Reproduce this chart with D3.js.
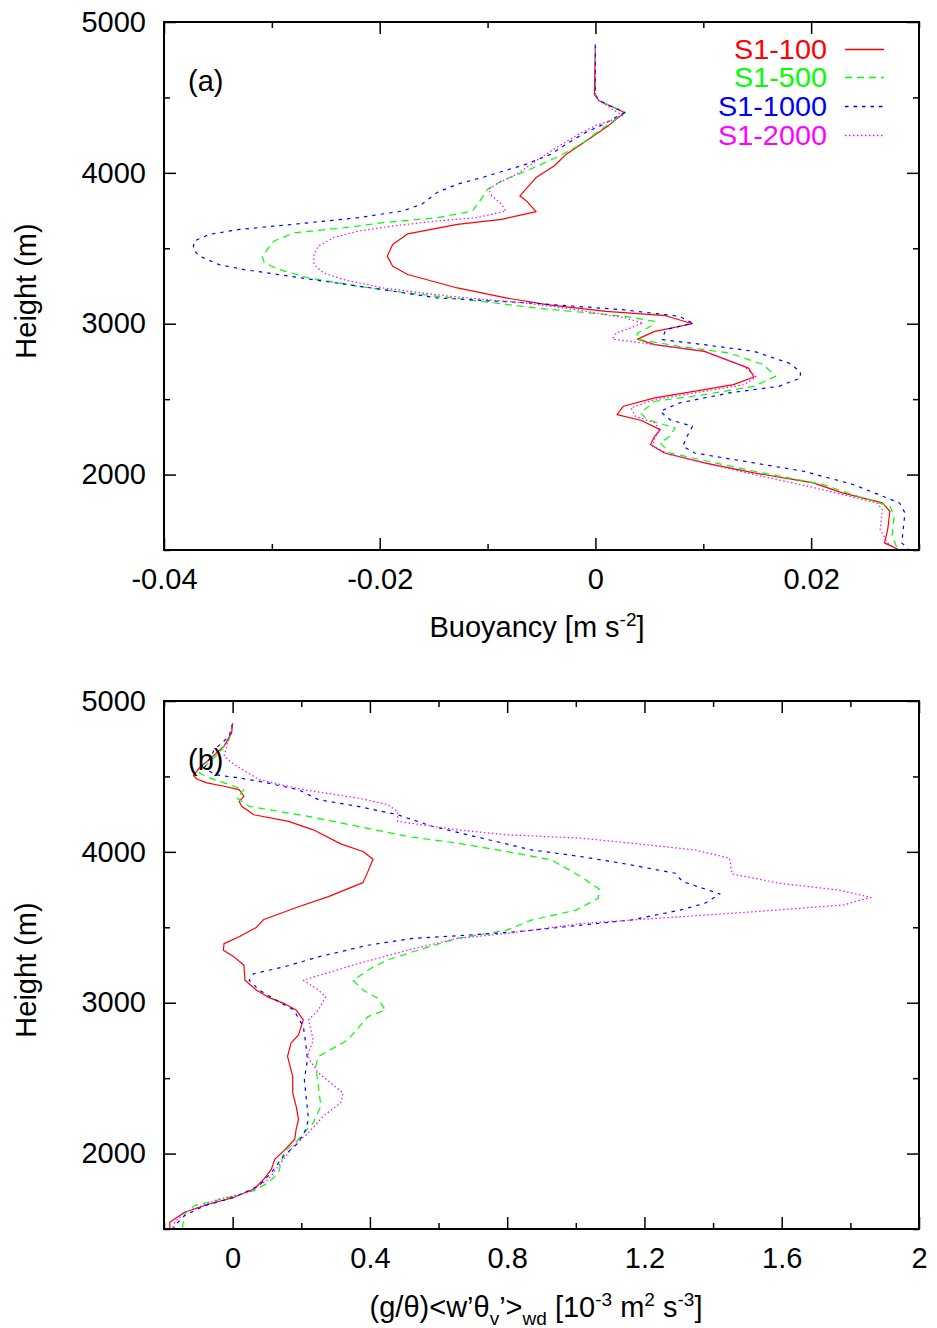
<!DOCTYPE html>
<html>
<head>
<meta charset="utf-8">
<script src="https://cdn.jsdelivr.net/npm/d3@7"></script>
<style>
  html, body { margin: 0; padding: 0; background: #fff; }
  svg { display: block; }
  text { font-family: "Liberation Sans", Arial, Helvetica, sans-serif; fill: #000; }
</style>
</head>
<body>
<svg id="chart" width="937" height="1328"></svg>
<script>
// ---------------- DATA ----------------
const seriesNames = ["S1-100", "S1-500", "S1-1000", "S1-2000"];
const seriesColors = ["#ff0000", "#00ff00", "#0000ff", "#ff00ff"];

// Panel (a): buoyancy [m s-2] vs height [m]
const heightA_S1_100 = [4850, 4520, 4480, 4400, 4313, 4235, 4124, 4047, 3969, 3847, 3814, 3743, 3692, 3659, 3596, 3525, 3448, 3381, 3326, 3237, 3171, 3126, 3082, 3053, 3000, 2949, 2898, 2861, 2817, 2706, 2647, 2596, 2563, 2508, 2453, 2397, 2360, 2298, 2254, 2199, 2143, 2077, 2011, 1945, 1879, 1812, 1757, 1636, 1547, 1500];
const buoyA_S1_100 = [0, -0.0001, 0.0003, 0.0027, 0.0012, -0.0004, -0.0027, -0.0038, -0.0055, -0.0070, -0.0064, -0.0055, -0.0087, -0.0128, -0.0174, -0.0188, -0.0193, -0.0188, -0.0174, -0.0128, -0.0083, -0.0045, 0.0010, 0.0065, 0.0090, 0.0055, 0.0039, 0.0055, 0.0101, 0.0142, 0.0147, 0.0128, 0.0101, 0.0055, 0.0026, 0.0020, 0.0042, 0.0060, 0.0055, 0.0051, 0.0064, 0.0101, 0.0147, 0.0202, 0.0229, 0.0266, 0.0273, 0.0271, 0.0268, 0.0282];

const heightA_S1_500 = [4850, 4520, 4480, 4400, 4313, 4191, 4102, 4013, 3947, 3891, 3836, 3747, 3703, 3670, 3636, 3603, 3548, 3448, 3404, 3359, 3304, 3248, 3204, 3160, 3104, 3049, 3015, 2982, 2938, 2898, 2850, 2806, 2728, 2651, 2585, 2530, 2486, 2408, 2364, 2309, 2254, 2210, 2143, 2022, 1934, 1868, 1790, 1724, 1592, 1525, 1500];
const buoyA_S1_500 = [0, 0, 0.0003, 0.0028, 0.0010, -0.0013, -0.0036, -0.0064, -0.0087, -0.0100, -0.0105, -0.0114, -0.0146, -0.0197, -0.0233, -0.0279, -0.0298, -0.0309, -0.0307, -0.0293, -0.0266, -0.0220, -0.0174, -0.0119, -0.0055, 0.0028, 0.0055, 0.0051, 0.0039, 0.0038, 0.0078, 0.0124, 0.0156, 0.0167, 0.0147, 0.0101, 0.0055, 0.0042, 0.0048, 0.0074, 0.0069, 0.0060, 0.0069, 0.0147, 0.0211, 0.0238, 0.0273, 0.0277, 0.0275, 0.0279, 0.0286];

const heightA_S1_1000 = [4850, 4520, 4480, 4400, 4313, 4268, 4191, 4124, 4058, 3969, 3925, 3869, 3792, 3747, 3703, 3659, 3625, 3592, 3548, 3492, 3448, 3392, 3359, 3326, 3282, 3226, 3171, 3137, 3093, 3049, 3004, 2960, 2894, 2861, 2817, 2740, 2684, 2640, 2585, 2541, 2475, 2419, 2364, 2320, 2254, 2188, 2143, 2077, 2022, 1934, 1812, 1746, 1547, 1500];
const buoyA_S1_1000 = [0, 0, 0.0003, 0.0027, 0.0005, -0.0009, -0.0027, -0.0041, -0.0064, -0.0105, -0.0128, -0.0147, -0.0161, -0.0179, -0.0220, -0.0280, -0.0330, -0.0358, -0.0372, -0.0373, -0.0367, -0.0349, -0.0326, -0.0294, -0.0252, -0.0197, -0.0147, -0.0060, 0.0025, 0.0078, 0.0090, 0.0065, 0.0062, 0.0101, 0.0147, 0.0179, 0.0190, 0.0190, 0.0170, 0.0124, 0.0078, 0.0060, 0.0069, 0.0090, 0.0085, 0.0081, 0.0092, 0.0147, 0.0193, 0.0239, 0.0282, 0.0287, 0.0284, 0.0291];

const heightA_S1_2000 = [4850, 4520, 4480, 4380, 4346, 4313, 4246, 4169, 4080, 3991, 3925, 3891, 3847, 3792, 3747, 3703, 3681, 3648, 3614, 3570, 3514, 3459, 3392, 3337, 3293, 3237, 3182, 3137, 3093, 3038, 3004, 2971, 2938, 2898, 2861, 2817, 2717, 2647, 2596, 2552, 2497, 2442, 2386, 2342, 2298, 2243, 2188, 2133, 2000, 1923, 1812, 1768, 1636, 1547, 1500];
const buoyA_S1_2000 = [0, 0, 0.0003, 0.0025, 0.0014, 0.0000, -0.0018, -0.0036, -0.0055, -0.0073, -0.0092, -0.0099, -0.0096, -0.0087, -0.0083, -0.0110, -0.0147, -0.0188, -0.0220, -0.0243, -0.0257, -0.0261, -0.0261, -0.0252, -0.0234, -0.0197, -0.0135, -0.0065, -0.0018, 0.0028, 0.0044, 0.0032, 0.0019, 0.0016, 0.0055, 0.0101, 0.0138, 0.0149, 0.0138, 0.0101, 0.0055, 0.0033, 0.0037, 0.0055, 0.0060, 0.0055, 0.0053, 0.0069, 0.0147, 0.0197, 0.0261, 0.0266, 0.0264, 0.0271, 0.0280];

// Panel (b): (g/theta)<w'theta_v'>_wd [1e-3 m2 s-3] vs height [m]
const heightB_S1_100 = [4850, 4789, 4701, 4612, 4557, 4506, 4483, 4457, 4435, 4412, 4368, 4335, 4302, 4246, 4202, 4146, 4053, 4002, 3951, 3869, 3796, 3703, 3636, 3552, 3499, 3437, 3392, 3348, 3304, 3248, 3149, 3084, 3035, 2996, 2952, 2886, 2787, 2732, 2644, 2512, 2402, 2314, 2226, 2160, 2095, 2018, 1963, 1897, 1831, 1765, 1710, 1666, 1611, 1545, 1500];
const fluxB_S1_100 = [0, -0.003, -0.025, -0.068, -0.097, -0.114, -0.104, -0.075, -0.025, 0.019, 0.033, 0.019, 0.026, 0.062, 0.163, 0.235, 0.315, 0.380, 0.409, 0.394, 0.380, 0.279, 0.192, 0.091, 0.069, 0.019, -0.025, -0.027, 0.004, 0.033, 0.036, 0.069, 0.105, 0.149, 0.185, 0.206, 0.192, 0.170, 0.160, 0.175, 0.175, 0.185, 0.192, 0.185, 0.181, 0.149, 0.123, 0.113, 0.091, 0.062, 0.004, -0.068, -0.140, -0.183, -0.183];

const heightB_S1_500 = [4850, 4745, 4656, 4579, 4523, 4490, 4435, 4412, 4357, 4302, 4235, 4169, 4102, 4058, 4002, 3947, 3836, 3752, 3692, 3614, 3548, 3481, 3426, 3348, 3282, 3237, 3149, 3084, 3029, 2952, 2908, 2754, 2644, 2578, 2446, 2314, 2204, 2095, 2007, 1875, 1809, 1754, 1710, 1655, 1600, 1500];
const fluxB_S1_500 = [0, -0.010, -0.039, -0.075, -0.097, -0.068, 0.004, 0.033, 0.012, 0.048, 0.221, 0.365, 0.510, 0.654, 0.799, 0.928, 1.015, 1.069, 1.065, 1.001, 0.871, 0.799, 0.654, 0.539, 0.450, 0.409, 0.351, 0.380, 0.423, 0.445, 0.394, 0.336, 0.250, 0.242, 0.250, 0.257, 0.235, 0.192, 0.149, 0.134, 0.105, 0.062, -0.010, -0.111, -0.140, -0.147];

const heightB_S1_1000 = [4850, 4767, 4678, 4557, 4512, 4490, 4468, 4412, 4346, 4302, 4246, 4169, 4091, 4013, 3969, 3914, 3858, 3803, 3721, 3659, 3614, 3548, 3514, 3470, 3448, 3426, 3381, 3304, 3237, 3193, 3149, 3084, 3007, 2952, 2842, 2732, 2622, 2490, 2358, 2226, 2160, 2073, 1985, 1875, 1787, 1710, 1655, 1589, 1523, 1500];
const fluxB_S1_1000 = [0, -0.010, -0.053, -0.082, -0.053, 0.019, 0.077, 0.192, 0.250, 0.365, 0.481, 0.582, 0.726, 0.871, 1.015, 1.160, 1.290, 1.311, 1.420, 1.376, 1.304, 1.160, 1.015, 0.827, 0.683, 0.524, 0.394, 0.250, 0.149, 0.062, 0.048, 0.077, 0.134, 0.178, 0.206, 0.213, 0.218, 0.209, 0.215, 0.221, 0.213, 0.192, 0.149, 0.113, 0.077, 0.004, -0.082, -0.140, -0.169, -0.172];

const heightB_S1_2000 = [4850, 4634, 4579, 4479, 4412, 4357, 4313, 4268, 4202, 4146, 4113, 4091, 4058, 4013, 3958, 3854, 3792, 3747, 3698, 3648, 3603, 3559, 3525, 3459, 3426, 3348, 3259, 3149, 3084, 3040, 2952, 2886, 2754, 2644, 2534, 2402, 2336, 2248, 2138, 2051, 1919, 1831, 1743, 1699, 1611, 1545, 1500];
const fluxB_S1_2000 = [0, -0.025, 0.004, 0.077, 0.206, 0.365, 0.452, 0.481, 0.481, 0.654, 0.799, 1.015, 1.160, 1.347, 1.448, 1.455, 1.593, 1.766, 1.860, 1.780, 1.520, 1.232, 1.015, 0.799, 0.654, 0.510, 0.365, 0.206, 0.250, 0.271, 0.250, 0.221, 0.235, 0.218, 0.250, 0.322, 0.315, 0.264, 0.221, 0.178, 0.134, 0.105, 0.048, -0.039, -0.140, -0.169, -0.176];

// Axis ticks
const xMajorA = [-0.04, -0.02, 0, 0.02];
const xMinorA = [-0.03, -0.01, 0.01, 0.03];
const xMajorB = [0, 0.4, 0.8, 1.2, 1.6, 2];
const xMinorB = [-0.2, 0.2, 0.6, 1.0, 1.4, 1.8];
const yMajor = [2000, 3000, 4000, 5000];
const yMinor = [1500, 2500, 3500, 4500];

// ---------------- LAYOUT ----------------
const svg = d3.select("#chart");
const left = 164, right = 919;
const FS = 29;
const LEG_FS = 27;
const dashes = [null, "7,5", "3.5,5", "1.5,2.5"];

const panels = [
  { top: 22, bottom: 550, xDomain: [-0.04, 0.03], xMajor: xMajorA, xMinor: xMinorA, tag: "(a)", tagY: 91,
    heights: [heightA_S1_100, heightA_S1_500, heightA_S1_1000, heightA_S1_2000],
    values: [buoyA_S1_100, buoyA_S1_500, buoyA_S1_1000, buoyA_S1_2000], legend: true },
  { top: 701, bottom: 1229, xDomain: [-0.2, 2.0], xMajor: xMajorB, xMinor: xMinorB, tag: "(b)", tagY: 770,
    heights: [heightB_S1_100, heightB_S1_500, heightB_S1_1000, heightB_S1_2000],
    values: [fluxB_S1_100, fluxB_S1_500, fluxB_S1_1000, fluxB_S1_2000], legend: false }
];

panels.forEach((p, pi) => {
  const x = d3.scaleLinear().domain(p.xDomain).range([left, right]);
  const y = d3.scaleLinear().domain([1500, 5000]).range([p.bottom, p.top]);
  const g = svg.append("g");

  // curves
  const line = d3.line().x(d => x(d[0])).y(d => y(d[1]));
  seriesNames.forEach((name, i) => {
    const pts = p.values[i].map((v, k) => [v, p.heights[i][k]]);
    const path = g.append("path").datum(pts)
      .attr("d", line)
      .attr("fill", "none")
      .attr("stroke", seriesColors[i])
      .attr("stroke-width", 1.2)
      .attr("stroke-linejoin", "round");
    if (dashes[i]) path.attr("stroke-dasharray", dashes[i]);
  });

  const styleAxis = (sel, showLabels) => {
    sel.select(".domain").remove();
    sel.selectAll(".tick line").attr("stroke", "#000").attr("stroke-width", 1.5);
    sel.selectAll(".tick text").attr("font-size", FS).attr("fill", "#000")
      .attr("font-family", "'Liberation Sans', Arial, sans-serif");
    if (!showLabels) sel.selectAll(".tick text").remove();
  };

  // left axis (labels) + minor
  g.append("g").attr("transform", `translate(${left},0)`)
    .call(d3.axisLeft(y).tickValues(yMajor).tickSize(-12).tickSizeOuter(0).tickPadding(18).tickFormat(d3.format("d")))
    .call(s => styleAxis(s, true));
  g.append("g").attr("transform", `translate(${left},0)`)
    .call(d3.axisLeft(y).tickValues(yMinor).tickSize(-6).tickSizeOuter(0))
    .call(s => styleAxis(s, false));
  // right axis
  g.append("g").attr("transform", `translate(${right},0)`)
    .call(d3.axisRight(y).tickValues(yMajor).tickSize(-12).tickSizeOuter(0))
    .call(s => styleAxis(s, false));
  g.append("g").attr("transform", `translate(${right},0)`)
    .call(d3.axisRight(y).tickValues(yMinor).tickSize(-6).tickSizeOuter(0))
    .call(s => styleAxis(s, false));
  // bottom axis (labels)
  g.append("g").attr("transform", `translate(0,${p.bottom})`)
    .call(d3.axisBottom(x).tickValues(p.xMajor).tickSize(-12).tickSizeOuter(0).tickPadding(18).tickFormat(d => String(d)))
    .call(s => styleAxis(s, true));
  g.append("g").attr("transform", `translate(0,${p.bottom})`)
    .call(d3.axisBottom(x).tickValues(p.xMinor).tickSize(-6).tickSizeOuter(0))
    .call(s => styleAxis(s, false));
  // top axis
  g.append("g").attr("transform", `translate(0,${p.top})`)
    .call(d3.axisTop(x).tickValues(p.xMajor).tickSize(-12).tickSizeOuter(0))
    .call(s => styleAxis(s, false));
  g.append("g").attr("transform", `translate(0,${p.top})`)
    .call(d3.axisTop(x).tickValues(p.xMinor).tickSize(-6).tickSizeOuter(0))
    .call(s => styleAxis(s, false));

  // frame
  g.append("rect").attr("x", left).attr("y", p.top)
    .attr("width", right - left).attr("height", p.bottom - p.top)
    .attr("fill", "none").attr("stroke", "#000").attr("stroke-width", 2);

  // panel tag
  g.append("text").attr("x", 188).attr("y", p.tagY).attr("font-size", FS).text(p.tag);

  // y title
  g.append("text")
    .attr("transform", `translate(${36},${(p.top + p.bottom) / 2 + 5}) rotate(-90)`)
    .attr("text-anchor", "middle").attr("font-size", FS).text("Height (m)");

  // legend
  if (p.legend) {
    const rowY = [49.5, 77.5, 106.5, 135.5];
    seriesNames.forEach((name, i) => {
      g.append("text").attr("x", 827).attr("y", rowY[i]).attr("dy", "0.36em")
        .attr("text-anchor", "end").attr("font-size", LEG_FS).style("fill", seriesColors[i])
        .attr("textLength", name.length === 6 ? 93 : 109).attr("lengthAdjust", "spacingAndGlyphs")
        .text(name);
      const l = g.append("line").attr("x1", 845).attr("x2", 884).attr("y1", rowY[i]).attr("y2", rowY[i])
        .attr("stroke", seriesColors[i]).attr("stroke-width", 1.3);
      if (dashes[i]) l.attr("stroke-dasharray", dashes[i]);
    });
  }
});

// x titles
const SUP = 19;
const t1 = svg.append("text").attr("x", 537).attr("y", 637).attr("text-anchor", "middle").attr("font-size", FS);
t1.append("tspan").text("Buoyancy [m s");
t1.append("tspan").attr("font-size", SUP).attr("dy", -11).text("-2");
t1.append("tspan").attr("dy", 11).text("]");

const t2 = svg.append("text").attr("x", 536).attr("y", 1317).attr("text-anchor", "middle").attr("font-size", FS);
t2.append("tspan").text("(g/\u03B8)<w\u2019\u03B8");
t2.append("tspan").attr("font-size", SUP).attr("dy", 8).text("v");
t2.append("tspan").attr("dy", -8).text("\u2019>");
t2.append("tspan").attr("font-size", SUP).attr("dy", 8).text("wd");
t2.append("tspan").attr("dy", -8).text(" [10");
t2.append("tspan").attr("font-size", SUP).attr("dy", -11).text("-3");
t2.append("tspan").attr("dy", 11).text(" m");
t2.append("tspan").attr("font-size", SUP).attr("dy", -11).text("2");
t2.append("tspan").attr("dy", 11).text(" s");
t2.append("tspan").attr("font-size", SUP).attr("dy", -11).text("-3");
t2.append("tspan").attr("dy", 11).text("]");
</script>
</body>
</html>
